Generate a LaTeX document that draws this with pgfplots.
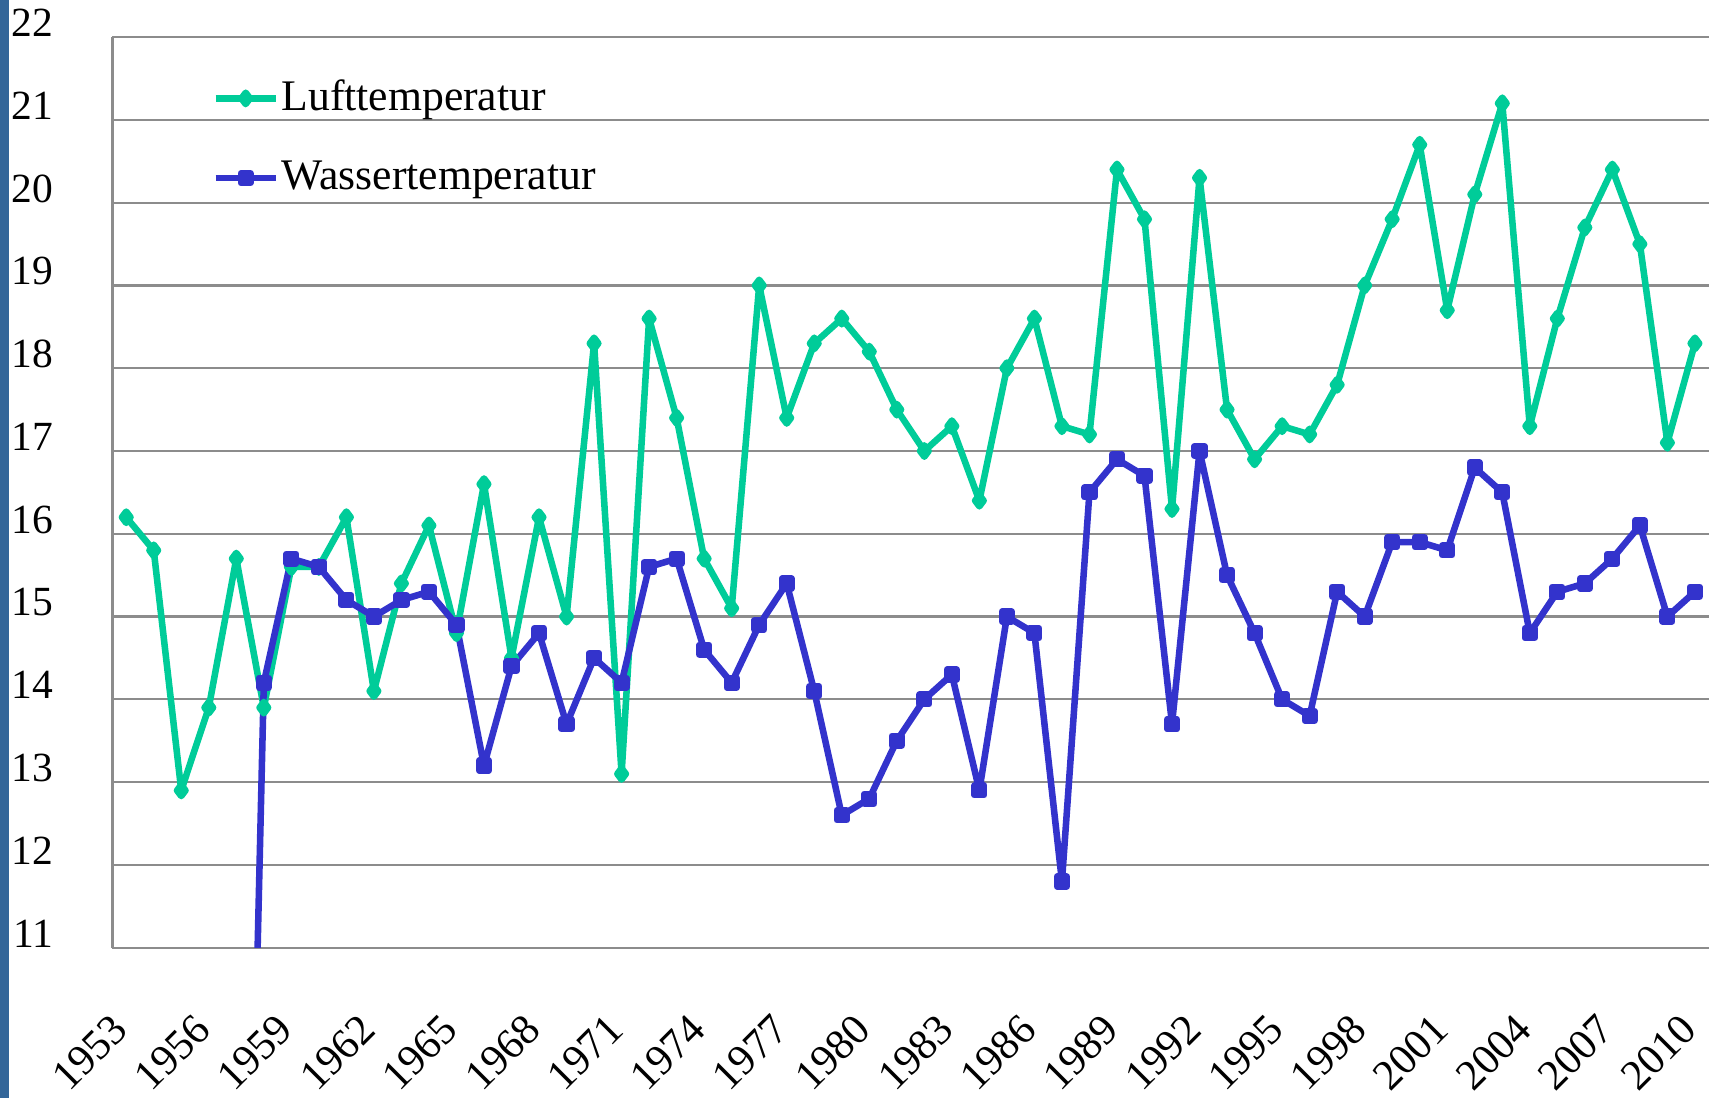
\documentclass[border=0pt]{standalone}
\usepackage{fontspec}
\setmainfont{Liberation Serif}
\usepackage{pgfplots}
\pgfplotsset{compat=1.18}
\definecolor{luft}{RGB}{0,204,153}
\definecolor{wasser}{RGB}{51,51,204}
\definecolor{gridgray}{RGB}{140,140,140}
\definecolor{barblue}{RGB}{51,102,153}
\begin{document}
\begin{tikzpicture}
\useasboundingbox (0,0) rectangle (392pt,251.5pt);
\fill[barblue] (0,0) rectangle (2pt,251.5pt);
\begin{axis}[
  at={(25.75pt,34.5pt)}, anchor=south west,
  width=365.5pt, height=208.5pt, scale only axis,
  xmin=1952.5, xmax=2010.5, ymin=11, ymax=22,
  xtick={1953,1956,...,2010}, ytick={11,12,...,22},
  axis x line*=bottom, axis y line*=left,
  axis line style={gridgray, line width=0.5pt},
  ymajorgrids, major grid style={gridgray, line width=0.5pt},
  major tick length=0pt,
  /pgf/number format/assume math mode=true,
  /pgf/number format/1000 sep={},
  yticklabel style={font=\fontsize{9.5}{11}\selectfont, anchor=east, xshift=-10pt, yshift=3.25pt},
  xticklabel shift=17pt,
  xticklabel style={font=\fontsize{9.8}{11}\selectfont, inner sep=0pt, xshift=-3.75pt, yshift=2.5pt, rotate=45, anchor=north east},
  legend style={draw=none, fill=none, at={(0.062,0.957)}, anchor=north west,
    font=\fontsize{10}{12}\selectfont, row sep=8.75pt, inner sep=0pt, nodes={inner sep=0.6pt}},
  legend cell align=left,
  legend image code/.code={\draw[mark repeat=2,mark phase=2,#1] plot coordinates {(0pt,0pt) (6.9pt,0pt) (13.75pt,0pt)};},
]
\addplot[color=luft, line width=1.5pt, line join=round, mark=diamond*, mark size=1.3pt, mark options={solid}] coordinates {
(1953,16.2) (1954,15.8) (1955,12.9) (1956,13.9) (1957,15.7) (1958,13.9)
(1959,15.6) (1960,15.6) (1961,16.2) (1962,14.1) (1963,15.4) (1964,16.1)
(1965,14.8) (1966,16.6) (1967,14.5) (1968,16.2) (1969,15.0) (1970,18.3)
(1971,13.1) (1972,18.6) (1973,17.4) (1974,15.7) (1975,15.1) (1976,19.0)
(1977,17.4) (1978,18.3) (1979,18.6) (1980,18.2) (1981,17.5) (1982,17.0)
(1983,17.3) (1984,16.4) (1985,18.0) (1986,18.6) (1987,17.3) (1988,17.2)
(1989,20.4) (1990,19.8) (1991,16.3) (1992,20.3) (1993,17.5) (1994,16.9)
(1995,17.3) (1996,17.2) (1997,17.8) (1998,19.0) (1999,19.8) (2000,20.7)
(2001,18.7) (2002,20.1) (2003,21.2) (2004,17.3) (2005,18.6) (2006,19.7)
(2007,20.4) (2008,19.5) (2009,17.1) (2010,18.3)
};
\addlegendentry{Lufttemperatur}
\addplot[color=wasser, line width=1.5pt, line join=round, mark=square*, mark size=1.1pt, mark options={solid}] coordinates {
(1957,0) (1958,14.2)
(1959,15.7) (1960,15.6) (1961,15.2) (1962,15.0) (1963,15.2) (1964,15.3)
(1965,14.9) (1966,13.2) (1967,14.4) (1968,14.8) (1969,13.7) (1970,14.5)
(1971,14.2) (1972,15.6) (1973,15.7) (1974,14.6) (1975,14.2) (1976,14.9)
(1977,15.4) (1978,14.1) (1979,12.6) (1980,12.8) (1981,13.5) (1982,14.0)
(1983,14.3) (1984,12.9) (1985,15.0) (1986,14.8) (1987,11.8) (1988,16.5)
(1989,16.9) (1990,16.7) (1991,13.7) (1992,17.0) (1993,15.5) (1994,14.8)
(1995,14.0) (1996,13.8) (1997,15.3) (1998,15.0) (1999,15.9) (2000,15.9)
(2001,15.8) (2002,16.8) (2003,16.5) (2004,14.8) (2005,15.3) (2006,15.4)
(2007,15.7) (2008,16.1) (2009,15.0) (2010,15.3)
};
\addlegendentry{Wassertemperatur}
\end{axis}
\end{tikzpicture}
\end{document}
